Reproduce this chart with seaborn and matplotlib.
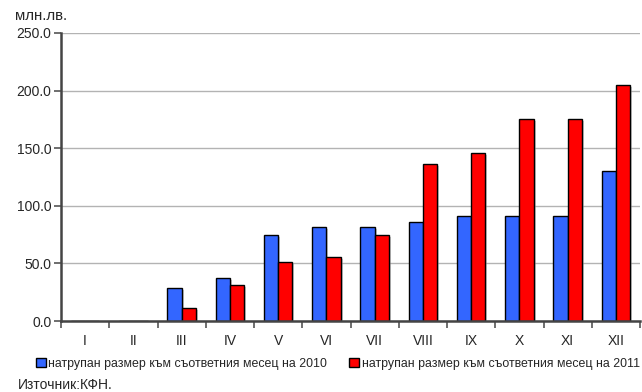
import matplotlib
matplotlib.use("Agg")
import matplotlib.pyplot as plt
import matplotlib.patheffects as pe
import pandas as pd
import seaborn as sns

months = ["I", "II", "III", "IV", "V", "VI", "VII", "VIII", "IX", "X", "XI", "XII"]
values_2010 = [0, 0, 29, 37, 75, 82, 82, 86, 91, 91, 91, 130]
values_2011 = [0, 0, 11, 31, 51, 56, 75, 136, 146, 175, 175, 205]
series = ["натрупан размер към съответния месец на 2010",
          "натрупан размер към съответния месец на 2011"]

df = pd.DataFrame({
    "month": months * 2,
    "value": values_2010 + values_2011,
    "series": [series[0]] * 12 + [series[1]] * 12,
})

sns.set_style("white")
plt.rcParams["font.family"] = ["Liberation Sans", "DejaVu Sans"]

fig = plt.figure(figsize=(6.42, 3.92), dpi=100)
ax = fig.add_axes([0.095, 0.181, 0.902, 0.735])

sns.barplot(data=df, x="month", y="value", hue="series", order=months,
            palette=["#3366FF", "#FF0000"], width=0.59, edgecolor="black",
            linewidth=1.0, saturation=1, ax=ax, legend=True)

# light drop shadow like the original chart
for p in ax.patches:
    if p.get_height() > 0:
        p.set_path_effects([pe.SimplePatchShadow(offset=(1.5, -1.5), shadow_rgbFace="#999999", alpha=0.5),
                            pe.Normal()])

ax.set_ylim(0, 250)
ax.set_xlim(-0.5, 11.5)
ax.set_yticks(range(0, 251, 50))
ax.set_yticklabels([f"{v:.1f}" for v in range(0, 251, 50)], fontsize=10)
ax.yaxis.grid(True, color="#b3b3b3", linewidth=1.0)
ax.set_axisbelow(True)
ax.set_xlabel("")
ax.set_ylabel("")

# ticks between categories, labels centered on categories
ax.set_xticks([i - 0.5 for i in range(13)], minor=False)
ax.set_xticklabels([])
ax.set_xticks(range(12), minor=True)
ax.set_xticklabels(months, minor=True, fontsize=10)
ax.tick_params(axis="x", which="major", direction="out", length=5, width=1.2, color="#555555", bottom=True)
ax.tick_params(axis="x", which="minor", length=0, pad=9)
ax.tick_params(axis="y", direction="out", length=5, width=1.2, color="#555555", left=True, pad=2)

for s in ["top", "right"]:
    ax.spines[s].set_visible(False)
for s in ["left", "bottom"]:
    ax.spines[s].set_color("#444444")
    ax.spines[s].set_linewidth(1.8)

handles, labels = ax.get_legend_handles_labels()
ax.get_legend().remove()
fig.legend(handles, labels, loc="center", bbox_to_anchor=(0.526, 0.0714), ncol=2, frameon=False,
           fontsize=8.9, handlelength=0.8, handleheight=0.8, handletextpad=0.2,
           columnspacing=1.8, borderpad=0, borderaxespad=0)

fig.text(0.023, 0.958, "млн.лв.", fontsize=10.8, va="center")
fig.text(0.028, 0.018, "Източник:КФН.", fontsize=10, va="center")

fig.savefig("out.png", dpi=100)
